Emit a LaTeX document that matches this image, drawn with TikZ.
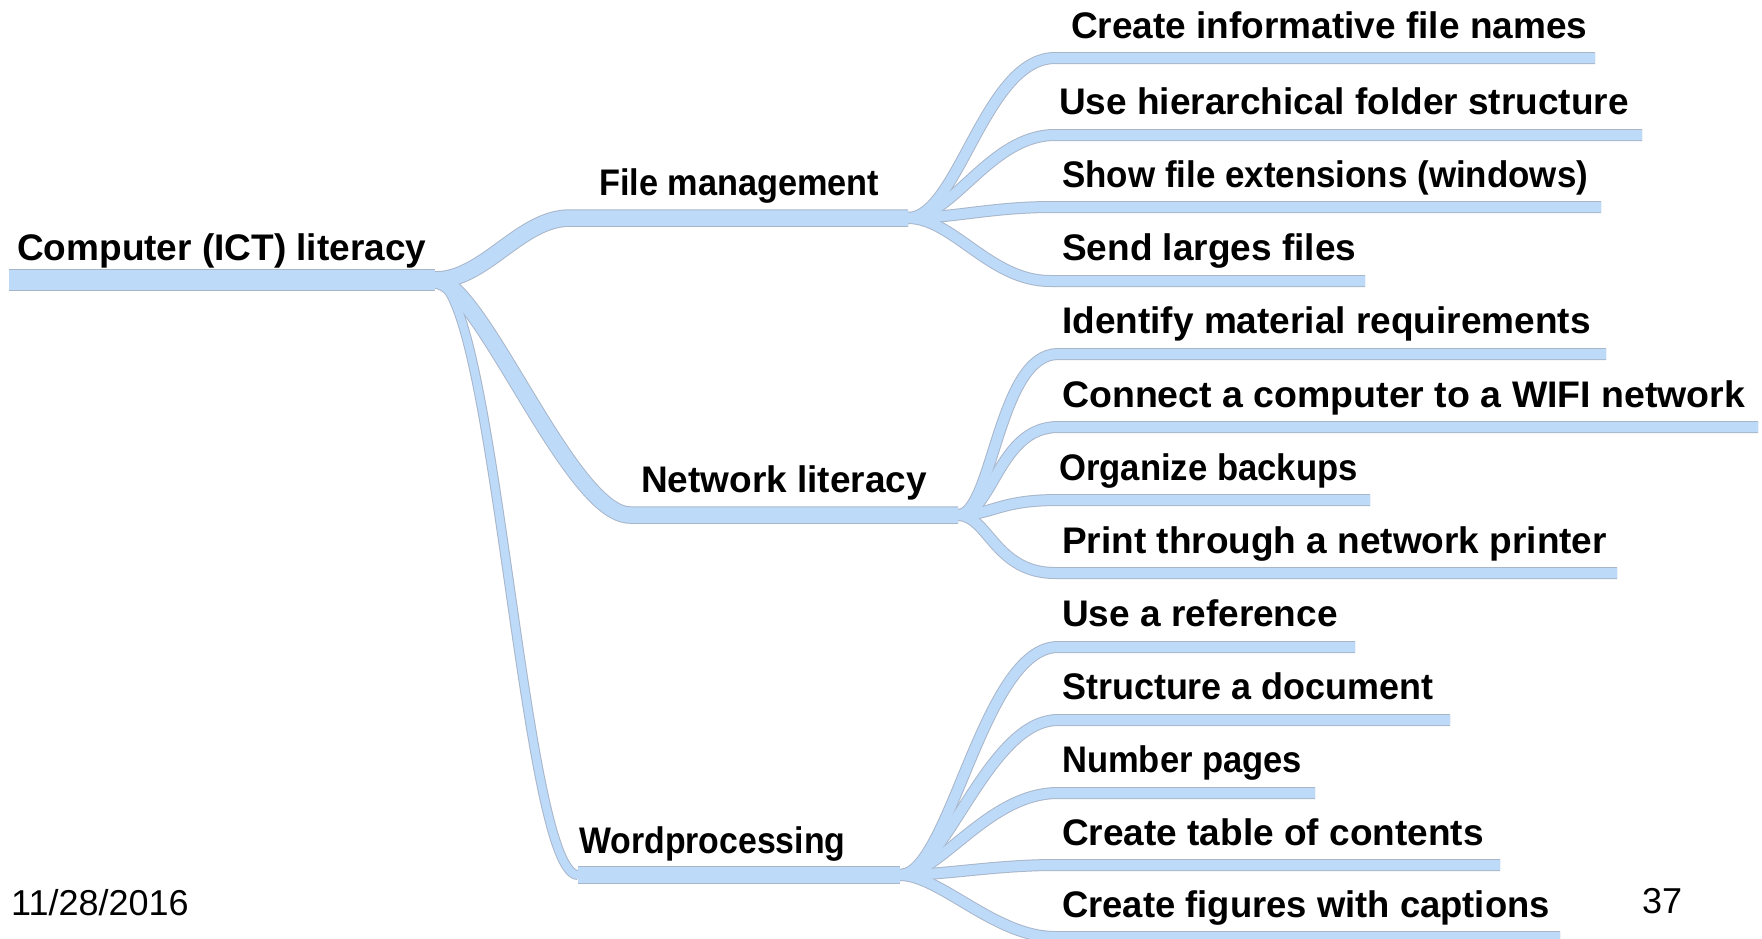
\documentclass[tikz,border=0pt]{standalone}
\usepackage{graphicx}
\usepackage{fontspec}
\setmainfont{Liberation Sans}
\definecolor{branch}{RGB}{189,218,249}
\definecolor{edge}{RGB}{168,182,202}
\tikzset{
  lbl/.style={anchor=base west, inner sep=0pt, font=\fontsize{37}{44}\selectfont\bfseries},
  footer/.style={anchor=base west, inner sep=0pt, font=\fontsize{36}{43}\selectfont},
  outlinepass/.style={
    rootbar/.style={draw=edge, line width=22pt},
    lvlone/.style={draw=edge, line width=17.5pt},
    lvlthin/.style={draw=edge, line width=10pt},
    lvltwo/.style={draw=edge, line width=12pt}},
  fillpass/.style={
    rootbar/.style={draw=branch, line width=20pt},
    lvlone/.style={draw=branch, line width=15.5pt},
    lvlthin/.style={draw=branch, line width=8pt},
    lvltwo/.style={draw=branch, line width=10pt}},
}
\newcommand\mybranches{%
\draw[rootbar] (rs) -- (rb);
\draw[lvlone] (rb) .. controls +(50,0) and +(-50,0) .. (fms) -- (fmb);
\draw[lvlone] (rb) .. controls +(45,0) and +(-60,0) .. (nls) -- (nlb);
\draw[lvlthin] (rb) .. controls +(60,0) and +(-55,0) .. (wps);
\draw[lvlone] (wps) -- (wpb);
\draw[lvltwo] (fmb) .. controls +(50,0) and +(-70,0) .. (c1s) -- (c1e);
\draw[lvltwo] (fmb) .. controls +(45,0) and +(-65,0) .. (c2s) -- (c2e);
\draw[lvltwo] (fmb) .. controls +(45,0) and +(-60,0) .. (c3s) -- (c3e);
\draw[lvltwo] (fmb) .. controls +(45,0) and +(-60,0) .. (c4s) -- (c4e);
\draw[lvltwo] (nlb) .. controls +(35,0) and +(-60,0) .. (d1s) -- (d1e);
\draw[lvltwo] (nlb) .. controls +(35,0) and +(-60,0) .. (d2s) -- (d2e);
\draw[lvltwo] (nlb) .. controls +(35,0) and +(-60,0) .. (d3s) -- (d3e);
\draw[lvltwo] (nlb) .. controls +(30,0) and +(-60,0) .. (d4s) -- (d4e);
\draw[lvltwo] (wpb) .. controls +(50,0) and +(-75,0) .. (e1s) -- (e1e);
\draw[lvltwo] (wpb) .. controls +(45,0) and +(-70,0) .. (e2s) -- (e2e);
\draw[lvltwo] (wpb) .. controls +(40,0) and +(-70,0) .. (e3s) -- (e3e);
\draw[lvltwo] (wpb) .. controls +(45,0) and +(-60,0) .. (e4s) -- (e4e);
\draw[lvltwo] (wpb) .. controls +(40,0) and +(-60,0) .. (e5s) -- (e5e);
}
\begin{document}
\begin{tikzpicture}[x=1pt,y=-1pt]
\useasboundingbox (0,0) rectangle (1762,938);

% ---------- coordinates of bars ----------
\coordinate (rs) at (9,280);   \coordinate (rb) at (435,280);
\coordinate (fms) at (570,218); \coordinate (fmb) at (908,218);
\coordinate (nls) at (630,515); \coordinate (nlb) at (958,515);
\coordinate (wps) at (578,875); \coordinate (wpb) at (900,875);

\coordinate (c1s) at (1055,58);  \coordinate (c1e) at (1595,58);
\coordinate (c2s) at (1055,135); \coordinate (c2e) at (1642,135);
\coordinate (c3s) at (1052,207); \coordinate (c3e) at (1601,207);
\coordinate (c4s) at (1050,281); \coordinate (c4e) at (1365,281);

\coordinate (d1s) at (1058,354); \coordinate (d1e) at (1606,354);
\coordinate (d2s) at (1058,427); \coordinate (d2e) at (1758,427);
\coordinate (d3s) at (1058,500); \coordinate (d3e) at (1370,500);
\coordinate (d4s) at (1055,573); \coordinate (d4e) at (1617,573);

\coordinate (e1s) at (1058,647); \coordinate (e1e) at (1355,647);
\coordinate (e2s) at (1058,720); \coordinate (e2e) at (1450,720);
\coordinate (e3s) at (1058,793); \coordinate (e3e) at (1315,793);
\coordinate (e4s) at (1055,865); \coordinate (e4e) at (1500,865);
\coordinate (e5s) at (1055,937); \coordinate (e5e) at (1560,937);

% ---------- connectors: thin grey edges first, then the blue fill ----------
\begin{scope}[outlinepass] \mybranches \end{scope}
\begin{scope}[fillpass] \mybranches \end{scope}

% ---------- labels ----------
\node[lbl] (root) at (17,260) {Computer (ICT) literacy};
\node[lbl] (fm) at (599,195) {\scalebox{0.927}[1]{File management}};
\node[lbl] (nl) at (641,492) {Network literacy};
\node[lbl] (wp) at (579,853) {\scalebox{0.914}[1]{Wordprocessing}};

\node[lbl] (c1) at (1071,38) {Create informative file names};
\node[lbl] (c2) at (1059,114) {Use hierarchical folder structure};
\node[lbl] (c3) at (1062,187) {\scalebox{0.944}[1]{Show file extensions (windows)}};
\node[lbl] (c4) at (1062,260) {Send larges files};

\node[lbl] (d1) at (1062,333) {Identify material requirements};
\node[lbl] (d2) at (1062,407) {\scalebox{1.013}[1]{Connect a computer to a WIFI network}};
\node[lbl] (d3) at (1059,480) {\scalebox{0.937}[1]{Organize backups}};
\node[lbl] (d4) at (1062,553) {Print through a network printer};

\node[lbl] (e1) at (1062,626) {Use a reference};
\node[lbl] (e2) at (1062,699) {\scalebox{0.971}[1]{Structure a document}};
\node[lbl] (e3) at (1062,772) {\scalebox{0.933}[1]{Number pages}};
\node[lbl] (e4) at (1062,845) {Create table of contents};
\node[lbl] (e5) at (1062,917) {\scalebox{0.984}[1]{Create figures with captions}};

\node[footer] (date) at (11,915) {11/28/2016};
\node[footer] (page) at (1642,913) {37};
\end{tikzpicture}
\end{document}
